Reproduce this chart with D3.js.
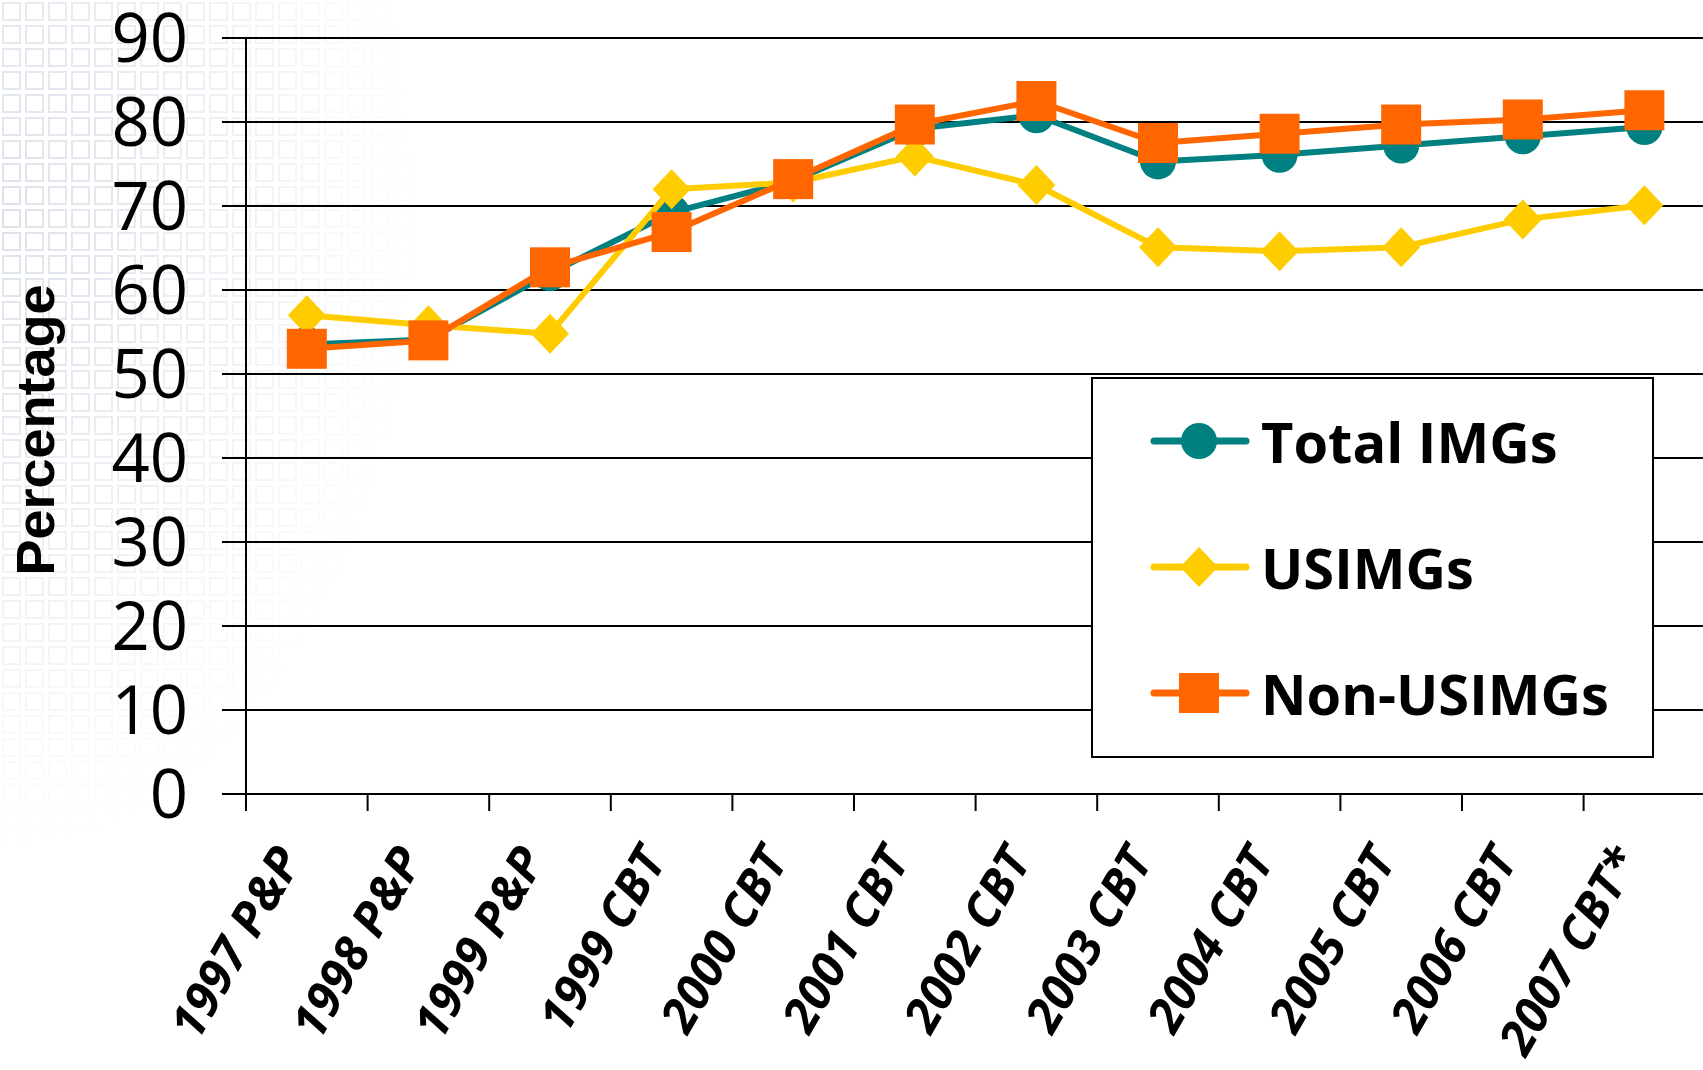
<!DOCTYPE html>
<html>
<head>
<meta charset="utf-8">
<script src="https://cdn.jsdelivr.net/npm/d3@7"></script>
<style>
  body { margin: 0; background: #fff; }
  svg { display: block; }
</style>
</head>
<body>
<div id="chart"></div>
<script>
const categories = ["1997 P&P", "1998 P&P", "1999 P&P", "1999 CBT", "2000 CBT", "2001 CBT",
  "2002 CBT", "2003 CBT", "2004 CBT", "2005 CBT", "2006 CBT", "2007 CBT*"];
const totalImgs = [53.5, 54.1, 62.0, 69.2, 73.0, 79.2, 80.8, 75.3, 76.1, 77.2, 78.3, 79.4];
const usImgs = [57.0, 55.8, 54.8, 72.0, 72.8, 75.9, 72.5, 65.1, 64.6, 65.1, 68.4, 70.1];
const nonUsImgs = [53.0, 54.0, 62.7, 66.9, 73.2, 79.7, 82.5, 77.5, 78.6, 79.7, 80.3, 81.4];
const yTicks = [0, 10, 20, 30, 40, 50, 60, 70, 80, 90];

const TEAL = "#008080";
const YELLOW = "#ffcc00";
const ORANGE = "#ff6600";

const series = [
  { name: "Total IMGs", values: totalImgs, color: TEAL, marker: "circle" },
  { name: "USIMGs", values: usImgs, color: YELLOW, marker: "diamond" },
  { name: "Non-USIMGs", values: nonUsImgs, color: ORANGE, marker: "square" }
];

const width = 1703, height = 1070;

const svg = d3.select("#chart").append("svg")
  .attr("width", width)
  .attr("height", height);

// faint square pattern of the slide background, top left
const defs = svg.append("defs");
const pat = defs.append("pattern")
  .attr("id", "squares")
  .attr("width", 23).attr("height", 23)
  .attr("patternUnits", "userSpaceOnUse");
pat.append("rect")
  .attr("x", 3).attr("y", 3).attr("width", 17).attr("height", 17)
  .attr("fill", "none").attr("stroke", "#dde2ea").attr("stroke-width", 2);

const grad = defs.append("radialGradient")
  .attr("id", "fade")
  .attr("cx", 0).attr("cy", 0.2).attr("r", 0.6);
grad.append("stop").attr("offset", "0%").attr("stop-color", "#fff").attr("stop-opacity", 1);
grad.append("stop").attr("offset", "55%").attr("stop-color", "#fff").attr("stop-opacity", 0.5);
grad.append("stop").attr("offset", "100%").attr("stop-color", "#fff").attr("stop-opacity", 0);
defs.append("mask").attr("id", "fadeMask")
  .append("rect").attr("width", 700).attr("height", 1070).attr("fill", "url(#fade)");

svg.append("rect")
  .attr("width", 700).attr("height", 1070)
  .attr("fill", "url(#squares)")
  .attr("mask", "url(#fadeMask)");

const x = d3.scaleBand()
  .domain(categories)
  .range([246, 246 + 12 * 121.6]);

const y = d3.scaleLinear()
  .domain([0, 90])
  .range([794, 38]);

// gridlines + y tick labels
const grid = svg.append("g");
grid.selectAll("line")
  .data(yTicks)
  .join("line")
  .attr("x1", 222)
  .attr("x2", width)
  .attr("y1", d => y(d))
  .attr("y2", d => y(d))
  .attr("stroke", "#000")
  .attr("stroke-width", 2);

grid.selectAll("text")
  .data(yTicks)
  .join("text")
  .text(d => d)
  .attr("x", 188)
  .attr("y", d => y(d))
  .attr("dy", "0.36em")
  .attr("text-anchor", "end")
  .attr("font-family", "Open Sans")
  .attr("font-size", "67px")
  .attr("fill", "#000");

// y axis line
svg.append("line")
  .attr("x1", 246).attr("x2", 246)
  .attr("y1", y(90)).attr("y2", 811)
  .attr("stroke", "#000").attr("stroke-width", 2);

// x ticks at category boundaries
svg.append("g").selectAll("line")
  .data(categories.slice(1))
  .join("line")
  .attr("x1", d => x(d)).attr("x2", d => x(d))
  .attr("y1", 794).attr("y2", 811)
  .attr("stroke", "#000").attr("stroke-width", 2);

// x labels
svg.append("g").selectAll("text")
  .data(categories)
  .join("text")
  .text(d => d)
  .attr("transform", d => "translate(" + (x(d) + x.bandwidth() / 2 - 4) + ",860) rotate(-60)")
  .attr("text-anchor", "end")
  .attr("font-family", "Open Sans")
  .attr("font-weight", "bold")
  .attr("font-style", "italic")
  .attr("font-size", "48px")
  .attr("fill", "#000");

// y axis title
svg.append("text")
  .text("Percentage")
  .attr("transform", "translate(54,430) rotate(-90)")
  .attr("text-anchor", "middle")
  .attr("font-family", "Liberation Sans")
  .attr("font-weight", "bold")
  .attr("font-size", "54px")
  .attr("fill", "#000");

function drawMarker(g, type, color) {
  if (type === "circle") {
    g.append("ellipse").attr("rx", 18).attr("ry", 18).attr("fill", color);
  } else if (type === "diamond") {
    g.append("path").attr("d", "M0,-20L19,0L0,20L-19,0Z").attr("fill", color);
  } else {
    g.append("rect").attr("x", -20).attr("y", -20).attr("width", 40).attr("height", 40).attr("fill", color);
  }
}

const line = d3.line()
  .x((d, i) => x(categories[i]) + x.bandwidth() / 2)
  .y(d => y(d));

series.forEach(function (s) {
  const g = svg.append("g");
  g.append("path")
    .attr("d", line(s.values))
    .attr("fill", "none")
    .attr("stroke", s.color)
    .attr("stroke-width", 6)
    .attr("stroke-linejoin", "round");
  s.values.forEach(function (v, i) {
    const m = g.append("g")
      .attr("transform", "translate(" + (x(categories[i]) + x.bandwidth() / 2) + "," + y(v) + ")");
    drawMarker(m, s.marker, s.color);
  });
});

// legend
const legend = svg.append("g");
legend.append("rect")
  .attr("x", 1092).attr("y", 378)
  .attr("width", 561).attr("height", 379)
  .attr("fill", "#fff")
  .attr("stroke", "#000")
  .attr("stroke-width", 2);

const legendRows = [441, 567, 693];
series.forEach(function (s, i) {
  const row = legend.append("g").attr("transform", "translate(0," + legendRows[i] + ")");
  row.append("line")
    .attr("x1", 1154).attr("x2", 1246)
    .attr("stroke", s.color).attr("stroke-width", 7).attr("stroke-linecap", "round");
  const m = row.append("g").attr("transform", "translate(1199,0)");
  drawMarker(m, s.marker, s.color);
  row.append("text")
    .text(s.name)
    .attr("x", 1261)
    .attr("y", 22)
    .attr("font-family", "Open Sans")
    .attr("font-weight", "bold")
    .attr("font-size", "56px")
    .attr("fill", "#000");
});
</script>
</body>
</html>
